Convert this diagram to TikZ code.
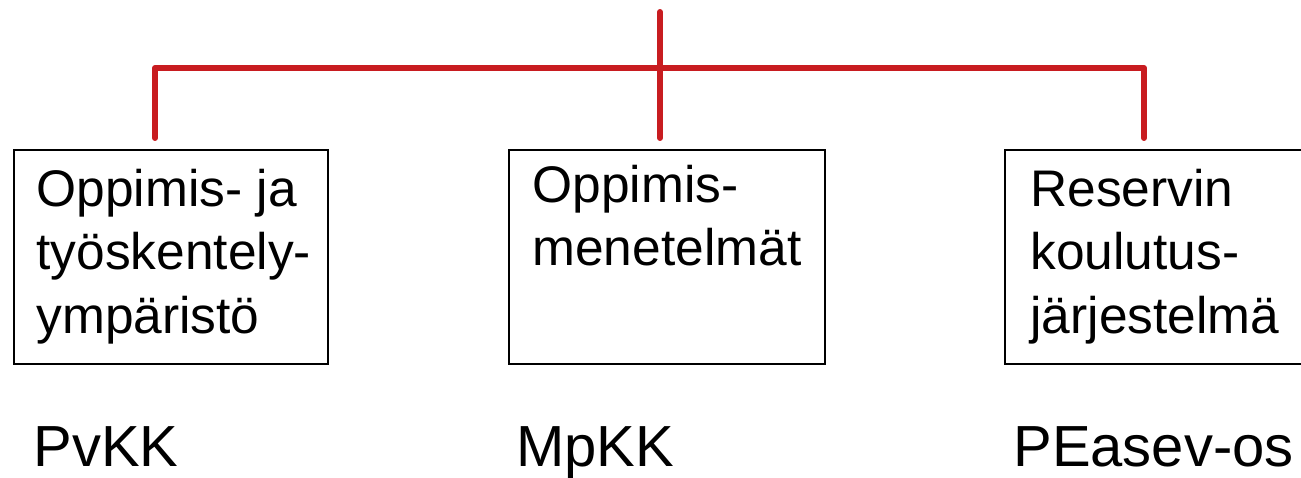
\documentclass[tikz,border=0pt]{standalone}
\usepackage{fontspec}
\setmainfont{Liberation Sans}
\usepackage{xcolor}
\usepackage{tikz}
\usetikzlibrary{positioning}
\definecolor{treered}{RGB}{200,28,32}
\tikzset{box/.style={draw, line width=1.1pt, minimum width=6.28cm, minimum height=4.28cm, inner sep=0pt},
  boxtext/.style={anchor=north west, inner sep=0pt, align=left, font=\fontsize{29.3}{36}\selectfont},
  unit/.style={anchor=base west, inner sep=0pt, font=\fontsize{33}{38}\selectfont},
  tree/.style={draw=treered, line width=3.4pt, line cap=round, line join=round}}

\begin{document}
\begin{tikzpicture}[x=0.02cm,y=-0.02cm]
  \useasboundingbox (0,0) rectangle (1301,477);
  \node[box] (lbox) at (171,257) {};
  \node[box, minimum width=6.32cm] (mbox) at (667,257) {};
  \node[box, minimum width=6.32cm] (rbox) at (1163,257) {};
  \node[boxtext] (ltext) at ([shift={(23,20)}]lbox.north west) {Oppimis- ja\\työskentely-\\ympäristö};
  \node[boxtext] (mtext) at ([shift={(24,16)}]mbox.north west) {Oppimis-\\menetelmät};
  \node[boxtext] (rtext) at ([shift={(26,20)}]rbox.north west) {Reservin\\koulutus-\\järjestelmä};
  \node[unit] (lunit) at (33,466) {PvKK};
  \node[unit] (munit) at (516,466) {MpKK};
  \node[unit] (runit) at (1013,466) {PEasev-os};
  % red tree
  \coordinate (top) at (660,12);
  \coordinate (ltop) at (155,138);
  \coordinate (mtop) at (660,138);
  \coordinate (rtop) at (1144,138);
  \draw[tree] (top) -- (mtop);
  \draw[tree] (ltop) |- (660,68) -| (rtop);
\end{tikzpicture}
\end{document}
